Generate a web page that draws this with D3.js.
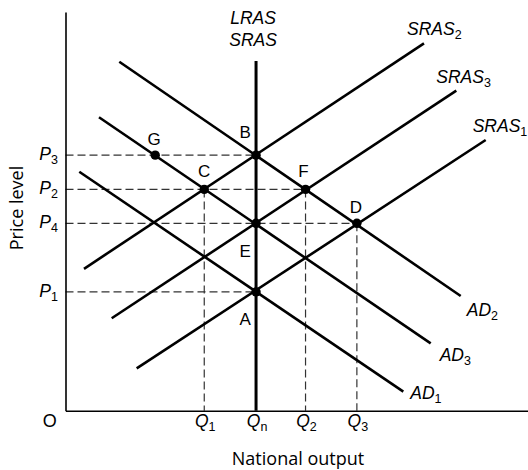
<!DOCTYPE html>
<html><head><meta charset="utf-8">
<script src="https://cdn.jsdelivr.net/npm/d3@7"></script>
<style>body{margin:0;background:#fff}svg{display:block}</style>
</head><body><svg id="c" width="528" height="470"></svg>
<script>
// ---- data (chart units 0..100 on both axes) ----
const qValues = [30.0, 41.2, 51.9, 63.0];
const qBase = ["Q", "Q", "Q", "Q"];
const qSubs = ["1", "n", "2", "3"];
const pValues = [29.8, 47.0, 55.5, 64.1];
const pBase = ["P", "P", "P", "P"];
const pSubs = ["1", "4", "2", "3"];

const curveBase = ["AD", "AD", "AD", "SRAS", "SRAS", "SRAS"];
const curveSubs = ["1", "2", "3", "1", "2", "3"];
const curveStartQ = [2.98, 11.63, 7.24, 15.39, 4.0, 9.99];
const curveStartP = [59.94, 87.53, 73.59, 10.63, 35.59, 23.18];
const curveEndQ = [73.04, 85.45, 78.96, 90.85, 77.51, 84.50];
const curveEndP = [4.77, 28.77, 16.90, 67.90, 92.15, 80.26];

const lrasQ = 41.2;
const lrasTop = 87.7;
const lrasLabels = ["LRAS", "SRAS"];

const pointNames = ["A", "B", "C", "D", "E", "F", "G"];
const pointQ = [41.2, 41.2, 30.0, 63.0, 41.2, 51.9, 19.4];
const pointP = [29.8, 64.1, 55.5, 47.0, 47.0, 55.5, 64.1];

// guides: horizontal dashed from price axis to a point, vertical from a point to quantity axis
const hGuidePoints = ["B", "F", "D", "A"];
const vGuidePoints = ["C", "F", "D"];

const xTitle = "National output";
const yTitle = "Price level";
const originLabel = "O";

// ---- drawing ----
const svg = d3.select("#c");
const x = d3.scaleLinear().domain([0, 100]).range([65.5, 528]);
const y = d3.scaleLinear().domain([0, 100]).range([410.7, 12]);

const ITAL = "'Liberation Sans', Arial, sans-serif";
const pt = name => { const i = pointNames.indexOf(name); return [pointQ[i], pointP[i]]; };

function subText(sel, base, sub, subSize, dy) {
  sel.append("tspan").text(base);
  sel.append("tspan").attr("font-size", subSize).attr("font-style", "normal").attr("dy", dy).text(sub);
}

// guides
const guides = svg.append("g").attr("stroke", "#333").attr("stroke-width", 1.2)
  .attr("stroke-dasharray", "8,4").attr("fill", "none");
hGuidePoints.forEach(n => {
  const [q, p] = pt(n);
  guides.append("line").attr("x1", x(0)).attr("x2", x(q)).attr("y1", y(p)).attr("y2", y(p));
});
vGuidePoints.forEach(n => {
  const [q, p] = pt(n);
  guides.append("line").attr("x1", x(q)).attr("x2", x(q)).attr("y1", y(p)).attr("y2", y(0));
});

// axes
const xAxis = svg.append("g").attr("transform", `translate(0,${y(0)})`)
  .call(d3.axisBottom(x).tickValues([]).tickSizeOuter(0));
const yAxis = svg.append("g").attr("transform", `translate(${x(0)},0)`)
  .call(d3.axisLeft(y).tickValues([]).tickSizeOuter(0));
[xAxis, yAxis].forEach(a => a.select(".domain").attr("stroke", "#000").attr("stroke-width", 1.6));

// curves
const line = d3.line().x(d => x(d[0])).y(d => y(d[1]));
curveBase.forEach((b, i) => {
  svg.append("path")
    .attr("d", line([[curveStartQ[i], curveStartP[i]], [curveEndQ[i], curveEndP[i]]]))
    .attr("stroke", "#000").attr("stroke-width", 2.6).attr("fill", "none");
});
svg.append("path").attr("d", line([[lrasQ, 0], [lrasQ, lrasTop]]))
  .attr("stroke", "#000").attr("stroke-width", 3).attr("fill", "none");

// curve labels (offsets from the line end)
const labelOffsets = {
  "AD1": [7, 7, "start"], "AD2": [6, 20, "start"], "AD3": [9, 18, "start"],
  "SRAS1": [-13, -8, "start"], "SRAS2": [-17, -8, "start"], "SRAS3": [-20, -8, "start"]
};
curveBase.forEach((b, i) => {
  const off = labelOffsets[b + curveSubs[i]];
  const t = svg.append("text")
    .attr("x", x(curveEndQ[i]) + off[0]).attr("y", y(curveEndP[i]) + off[1])
    .attr("font-family", ITAL).attr("font-style", "italic").attr("font-size", 17.5)
    .attr("text-anchor", off[2]);
  subText(t, b, curveSubs[i], 12.5, 4);
});
lrasLabels.forEach((s, i) => {
  svg.append("text").attr("x", x(lrasQ) - 3).attr("y", y(lrasTop) - 37 + i * 21.5)
    .attr("font-family", ITAL).attr("font-style", "italic").attr("font-size", 17.5)
    .attr("text-anchor", "middle").text(s);
});

// points
svg.append("g").selectAll("circle").data(pointNames).join("circle")
  .attr("cx", (d, i) => x(pointQ[i])).attr("cy", (d, i) => y(pointP[i])).attr("r", 4.7).attr("fill", "#000");
const pointLabelOffsets = { A: [-11, 33], B: [-11, -17], C: [0, -12], D: [-1, -10], E: [-11, 34], F: [-2, -12], G: [-1, -10] };
svg.append("g").selectAll("text").data(pointNames).join("text")
  .attr("x", (d, i) => x(pointQ[i]) + pointLabelOffsets[d][0])
  .attr("y", (d, i) => y(pointP[i]) + pointLabelOffsets[d][1])
  .attr("font-family", ITAL).attr("font-size", 17).attr("text-anchor", "middle").text(d => d);

// tick labels
qValues.forEach((q, i) => {
  const t = svg.append("text").attr("x", x(q) + 1).attr("y", 426.7)
    .attr("font-family", ITAL).attr("font-style", "italic").attr("font-size", 17.5).attr("text-anchor", "middle");
  subText(t, qBase[i], qSubs[i], 12.5, 4);
});
pValues.forEach((p, i) => {
  const t = svg.append("text").attr("x", 58).attr("y", y(p) + 5)
    .attr("font-family", ITAL).attr("font-style", "italic").attr("font-size", 17.5).attr("text-anchor", "end");
  subText(t, pBase[i], pSubs[i], 12.5, 4);
});
svg.append("text").attr("x", 49.7).attr("y", 426.7).attr("font-family", ITAL).attr("font-size", 18)
  .attr("text-anchor", "middle").text(originLabel);

// axis titles
svg.append("text").attr("x", 298).attr("y", 465).attr("font-family", "'Open Sans', 'Noto Sans', sans-serif")
  .attr("font-size", 18).attr("text-anchor", "middle").text(xTitle);
svg.append("text").attr("transform", "translate(23,208) rotate(-90)")
  .attr("font-family", "'Open Sans', 'Noto Sans', sans-serif")
  .attr("font-size", 18).attr("text-anchor", "middle").text(yTitle);
</script></body></html>
